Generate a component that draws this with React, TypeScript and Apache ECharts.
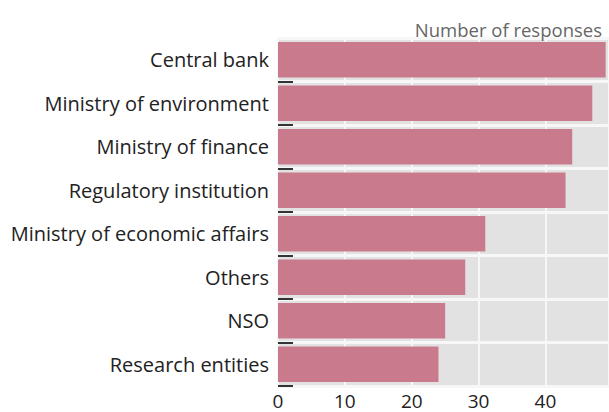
import React, { useEffect, useRef } from "react";
import * as echarts from "echarts";

const categories = [
  "Central bank",
  "Ministry of environment",
  "Ministry of finance",
  "Regulatory institution",
  "Ministry of economic affairs",
  "Others",
  "NSO",
  "Research entities",
];
const responses = [49, 47, 44, 43, 31, 28, 25, 24];
const xTicks = [0, 10, 20, 30, 40];
const titleText = "Number of responses";

export default function App() {
  const ref = useRef<HTMLDivElement>(null);
  useEffect(() => {
    document.body.style.margin = "0";
    const chart = echarts.init(ref.current!, null, { renderer: "svg" });
    chart.setOption({
      animation: false,
      textStyle: { fontFamily: "Open Sans" },
      title: {
        text: titleText,
        right: 2,
        top: 15,
        textStyle: { fontSize: 18.5, fontWeight: "normal", color: "#666", fontFamily: "Open Sans" },
      },
      grid: {
        left: 278,
        right: 0,
        top: 38,
        bottom: 26,
        show: true,
        backgroundColor: "#e2e2e2",
        borderWidth: 0,
      },
      xAxis: {
        type: "value",
        min: 0,
        max: 49.5,
        interval: 10,
        axisLine: { show: false },
        axisTick: { show: false },
        axisLabel: {
          fontSize: 19,
          color: "#222",
          margin: 5,
          formatter: (v: number) => (xTicks.includes(v) ? String(v) : ""),
          showMaxLabel: false,
        },
        splitLine: { show: true, lineStyle: { color: "#f7f7f7", width: 2 } },
      },
      yAxis: {
        type: "category",
        data: categories,
        inverse: true,
        axisLine: { show: false },
        axisTick: {
          show: true,
          inside: true,
          length: 15,
          interval: (i: number) => i !== 0,
          lineStyle: { color: "#333", width: 2 },
        },
        axisLabel: { fontSize: 20, color: "#222", margin: 9 },
        splitLine: { show: true, lineStyle: { color: "#f7f7f7", width: 3 } },
      },
      series: [
        {
          type: "bar",
          data: responses,
          barCategoryGap: "18%",
          itemStyle: { color: "#c97a8d" },
        },
      ],
    });
    return () => chart.dispose();
  }, []);
  return <div ref={ref} style={{ width: 609, height: 412 }} />;
}
